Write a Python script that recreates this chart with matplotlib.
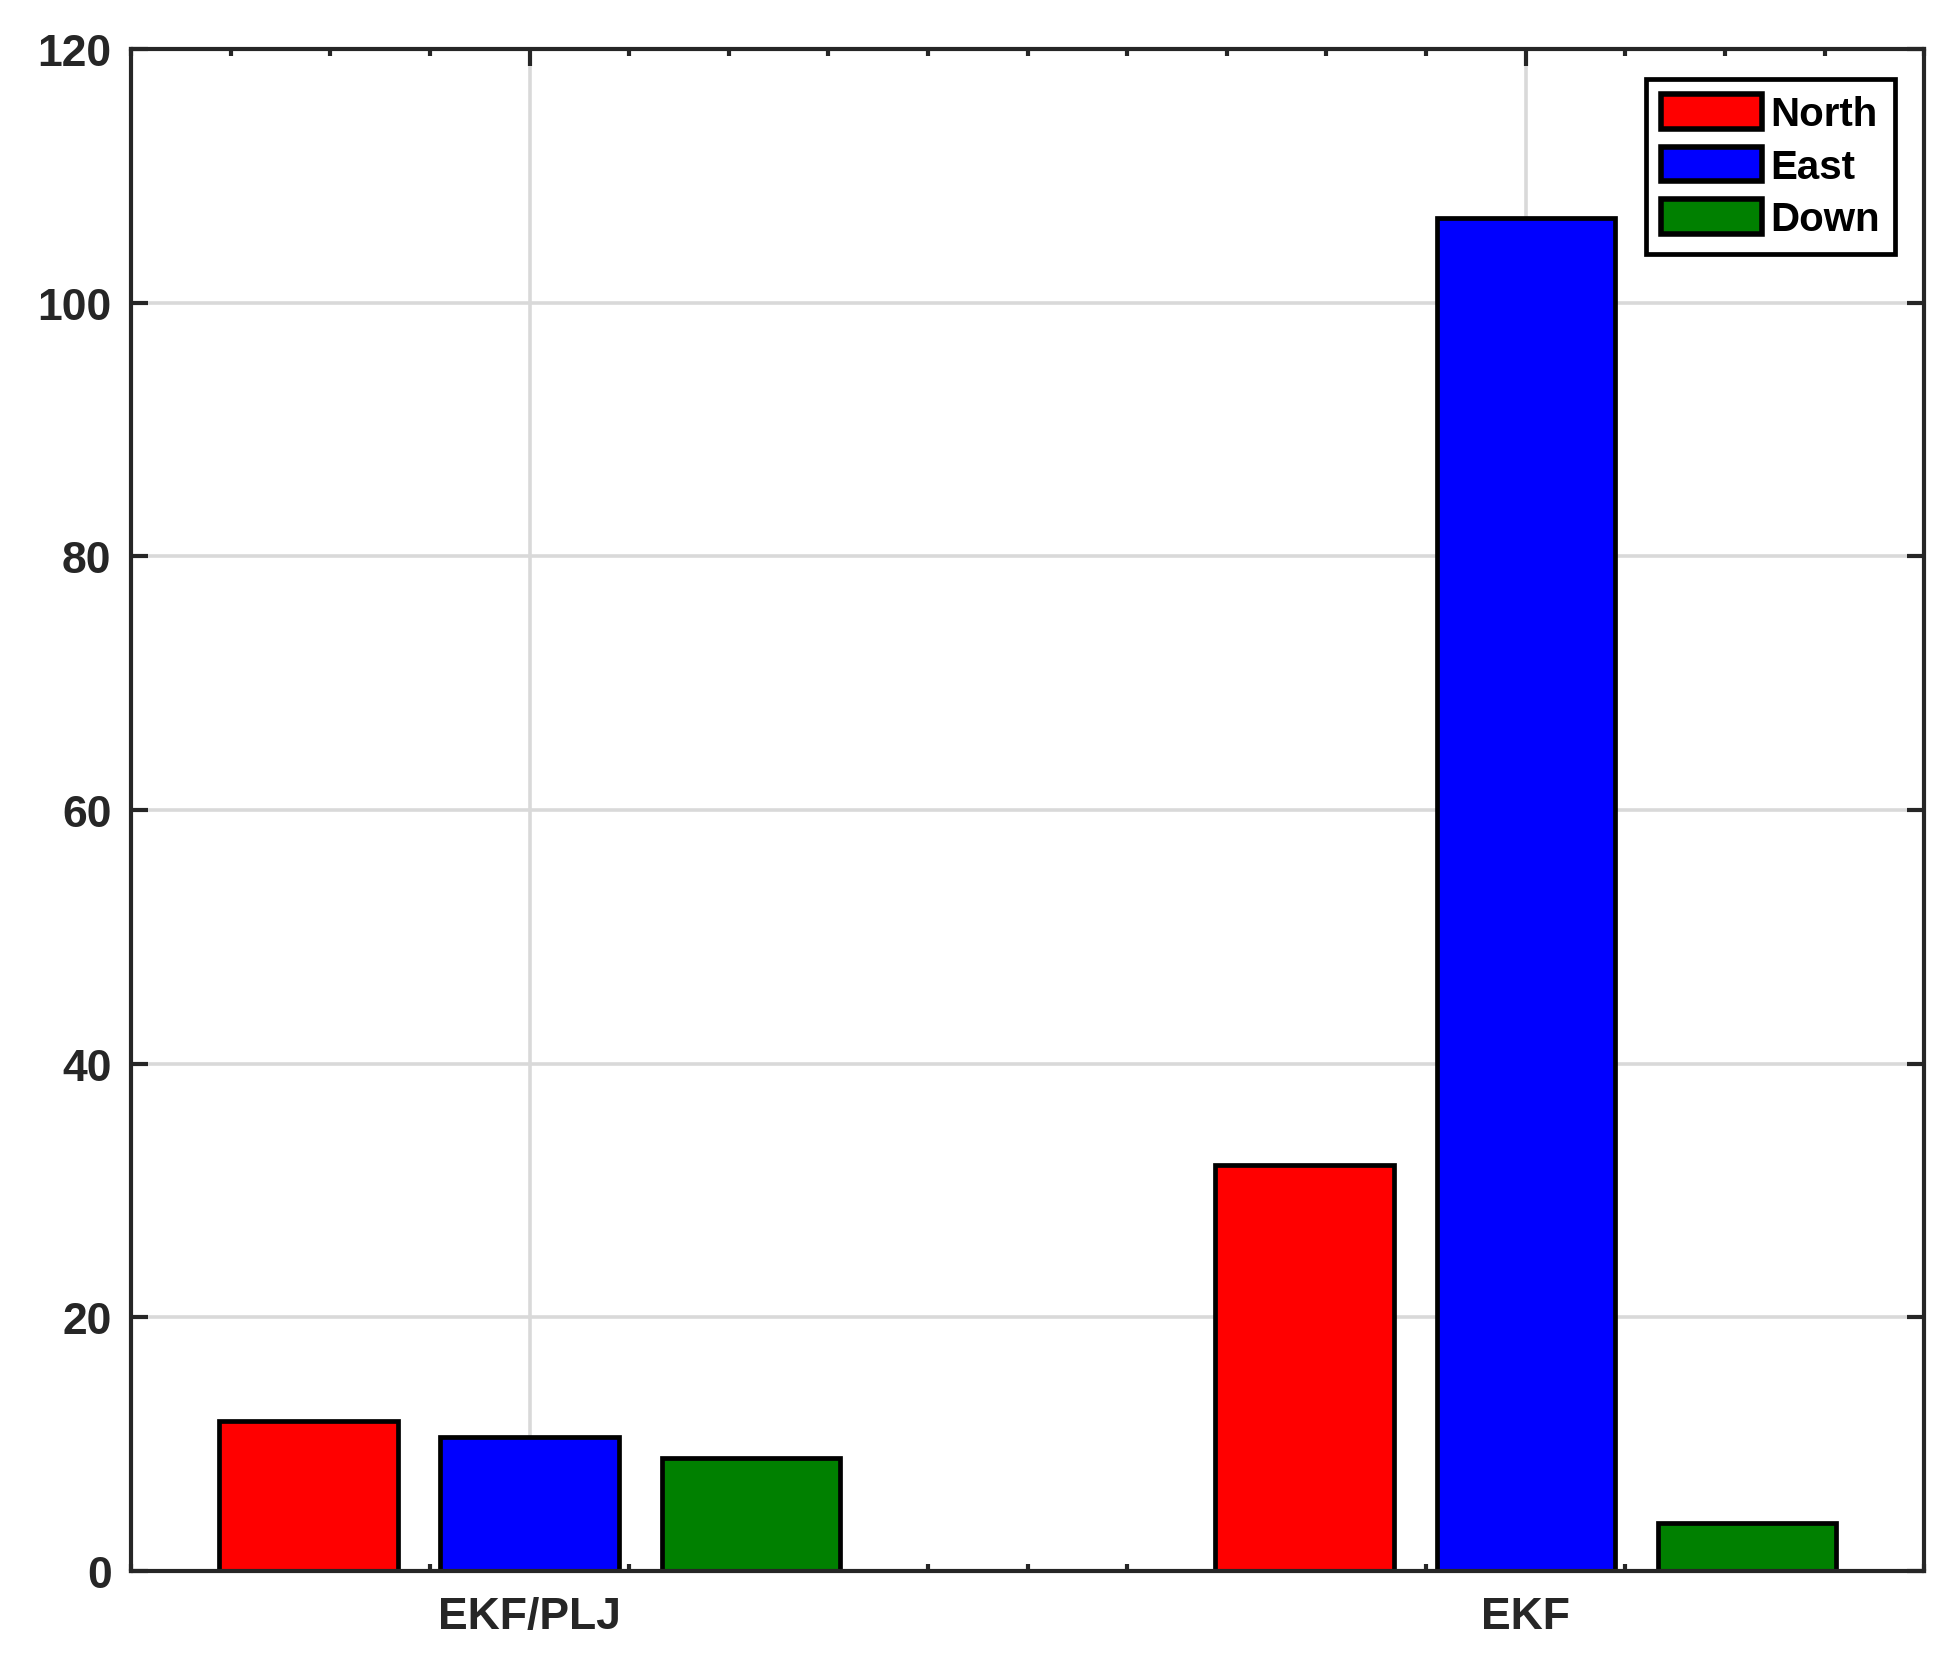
import matplotlib
matplotlib.use('Agg')
import matplotlib.pyplot as plt
import numpy as np

plt.rcParams.update({
    'font.family': ['Liberation Sans', 'DejaVu Sans'],
    'font.weight': 'bold',
    'font.size': 32,
})

# data
categories = ['EKF/PLJ', 'EKF']
series = ['North', 'East', 'Down']
north = [11.8, 32.0]
east = [10.6, 106.7]
down = [8.9, 3.8]
colors = ['#ff0000', '#0000ff', '#008000']
y_ticks = [0, 20, 40, 60, 80, 100, 120]

fig = plt.figure(figsize=(19.59, 16.58), dpi=100)
ax = fig.add_axes([0.0669, 0.0519, 0.9153, 0.9180])

x = np.arange(1, len(categories) + 1)
offsets = [-0.222, 0.0, 0.222]
width = 0.179
for vals, name, col, off in zip([north, east, down], series, colors, offsets):
    ax.bar(x + off, vals, width, color=col, edgecolor='black', linewidth=3.4,
           label=name, zorder=3)

ax.set_xlim(0.6, 2.4)
ax.set_ylim(0, 120)
ax.set_xticks(x)
ax.set_xticklabels(categories)
ax.set_xticks(np.arange(0.6, 2.41, 0.1), minor=True)
ax.set_yticks(y_ticks)

ax.grid(True, which='major', color='#d9d9d9', linewidth=2.6, zorder=0)
ax.set_axisbelow(True)

for sp in ax.spines.values():
    sp.set_linewidth(3)
    sp.set_color('#262626')
    sp.set_zorder(4)

ax.tick_params(which='both', direction='in', top=True, right=True,
               color='#262626', width=3, labelcolor='#262626')
ax.tick_params(which='major', length=12)
ax.tick_params(which='minor', length=5)
ax.tick_params(axis='y', pad=14)
ax.tick_params(axis='x', pad=18)

leg = ax.legend(loc='upper right', bbox_to_anchor=(1 - 29 / 1793, 1 - 30 / 1522),
                borderaxespad=0, fancybox=False, framealpha=1, edgecolor='black',
                fontsize=29, handlelength=2.5, handleheight=0.95,
                handletextpad=0.2, labelspacing=0.33, borderpad=0.38)
leg.get_frame().set_linewidth(3.4)
for p in leg.get_patches():
    p.set_linewidth(4)

fig.savefig('out.png', dpi=100)
